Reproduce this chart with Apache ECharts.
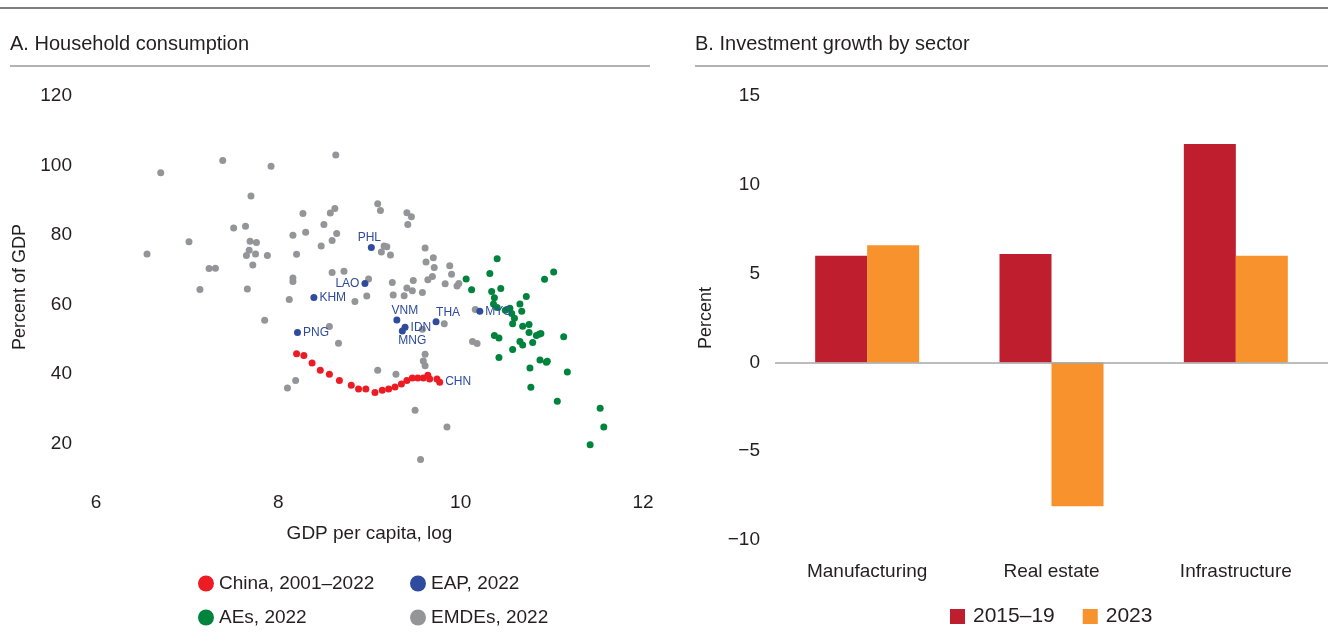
<!DOCTYPE html>
<html>
<head>
<meta charset="utf-8">
<title>Household consumption and investment growth</title>
<script src="https://cdn.jsdelivr.net/npm/echarts@6/dist/echarts.min.js"></script>
<style>
  html, body { margin: 0; padding: 0; background: #fff; }
  #chart { width: 1328px; height: 641px; }
</style>
</head>
<body>
<div id="chart"></div>
<script>
// ---- panel A: household consumption (percent of GDP) vs log GDP per capita ----
var chinaX = [8.20, 8.28, 8.37, 8.46, 8.56, 8.67, 8.80, 8.88, 8.96, 9.06, 9.14,
              9.21, 9.28, 9.35, 9.41, 9.47, 9.53, 9.59, 9.64, 9.66, 9.74, 9.77];
var chinaY = [45.8, 45.3, 43.1, 41.0, 39.9, 38.1, 36.7, 35.6, 35.6, 34.6, 35.3,
              35.6, 36.2, 37.1, 38.1, 38.8, 38.8, 38.8, 39.6, 38.5, 38.5, 37.6];

var eapNames = ['PHL', 'LAO', 'KHM', 'PNG', 'VNM', 'IDN', 'MNG', 'THA', 'MYS'];
var eapX = [9.02, 8.95, 8.39, 8.21, 9.30, 9.39, 9.36, 9.73, 10.21];
var eapY = [76.4, 66.0, 62.0, 51.9, 55.5, 53.4, 52.3, 55.0, 58.0];

var aesX = [10.40, 10.32, 10.06, 10.12, 10.34, 10.44, 10.37, 10.36, 10.40, 10.49,
            10.54, 10.56, 10.59, 10.65, 10.67, 10.72, 11.02, 10.92, 10.57, 10.68,
            10.75, 10.75, 10.83, 10.86, 10.88, 10.79, 10.37, 10.42, 10.65, 10.68,
            10.57, 11.13, 10.42, 10.87, 10.94, 10.95, 10.76, 11.17, 10.77, 11.06,
            11.53, 11.57, 11.42];
var aesY = [73.1, 68.9, 67.3, 64.2, 63.7, 64.6, 61.9, 60.1, 59.1, 58.3,
            58.9, 57.4, 56.0, 60.1, 58.0, 62.3, 69.3, 67.2, 54.4, 53.7,
            54.2, 51.9, 51.0, 51.4, 51.6, 49.0, 51.0, 50.3, 49.3, 48.3,
            47.0, 50.7, 44.7, 44.0, 43.3, 43.6, 41.7, 40.5, 36.1, 32.1,
            30.1, 24.7, 19.6];

var emdeX = [6.71, 7.39, 7.92, 7.70, 7.51, 7.64, 7.02, 6.56, 7.69, 7.76,
             7.68, 7.65, 7.75, 7.88, 7.72, 7.24, 7.31, 7.14, 7.66, 7.85,
             8.27, 8.30, 8.16, 8.20, 8.16, 8.16, 8.12, 8.63, 9.09, 9.12,
             9.41, 9.46, 9.42, 8.57, 8.62, 8.50, 8.64, 8.59, 8.47, 9.16,
             9.19, 9.13, 9.23, 9.61, 9.70, 9.62, 9.71, 9.88, 9.90, 9.69,
             9.64, 9.83, 9.96, 9.98, 8.59, 8.72, 8.99, 9.25, 9.48, 9.41,
             9.47, 9.58, 9.26, 9.38, 8.97, 8.84, 9.58, 9.82, 8.56, 8.66,
             10.16, 10.13, 10.18, 9.61, 9.59, 9.61, 9.09, 9.29, 8.19, 8.10,
             9.50, 9.85, 9.56];
var emdeY = [97.9, 101.4, 99.8, 91.2, 82.0, 82.5, 78.0, 74.5, 78.2, 77.8,
             75.6, 74.1, 74.5, 74.1, 71.3, 70.3, 70.4, 64.3, 64.4, 55.4,
             86.2, 80.8, 79.9, 74.4, 67.6, 66.6, 61.4, 103.0, 89.0, 87.0,
             86.4, 85.2, 83.0, 86.3, 87.6, 83.0, 80.4, 78.4, 76.8, 76.8,
             76.6, 75.1, 74.2, 76.2, 73.4, 72.2, 70.6, 71.1, 68.7, 68.0,
             67.1, 65.9, 65.3, 66.0, 69.2, 69.5, 67.3, 66.3, 66.9, 64.7,
             63.9, 63.4, 62.7, 62.5, 62.4, 60.8, 52.8, 54.4, 53.6, 48.8,
             58.5, 49.3, 48.7, 45.6, 43.7, 42.3, 41.0, 39.9, 38.1, 35.9,
             29.5, 24.7, 15.3];

var scatterTicks = [20, 40, 60, 80, 100, 120];

// ---- panel B: investment growth by sector (percent) ----
var sectors = ['Manufacturing', 'Real estate', 'Infrastructure'];
var growth1519 = [6.0, 6.1, 12.3];
var growth2023 = [6.6, -8.1, 6.0];

var FONT = 'Liberation Sans';
var TXT = '#231f20';
var BLUE = '#2e4b9e';

// where each country code sits next to its dot
var labelPos = {
    PHL: { position: 'top', distance: 0, offset: [-2, 0] },
    LAO: { position: 'left', distance: 2 },
    KHM: { position: 'right', distance: 2 },
    PNG: { position: 'right', distance: 2 },
    VNM: { position: 'top', distance: 0, offset: [8, 0] },
    IDN: { position: 'right', distance: 2 },
    MNG: { position: 'bottom', distance: 0, offset: [10, 0] },
    THA: { position: 'top', distance: 0, offset: [12, 0] },
    MYS: { position: 'right', distance: 2 }
};

function zip(xs, ys) {
    var out = [];
    for (var i = 0; i < xs.length; i++) {
        out.push([xs[i], ys[i]]);
    }
    return out;
}

var eapData = [];
for (var i = 0; i < eapNames.length; i++) {
    var lp = labelPos[eapNames[i]];
    eapData.push({
        value: [eapX[i], eapY[i]],
        name: eapNames[i],
        label: {
            show: true,
            formatter: eapNames[i],
            position: lp.position,
            distance: lp.distance,
            offset: lp.offset || [0, 0]
        }
    });
}

var chinaData = zip(chinaX, chinaY);
// last year gets the CHN tag
chinaData[chinaData.length - 1] = {
    value: chinaData[chinaData.length - 1],
    label: { show: true, formatter: 'CHN', position: 'right', distance: 2, color: BLUE, fontSize: 12, fontFamily: FONT }
};

var chart = echarts.init(document.getElementById('chart'));

var option = {
    animation: false,
    backgroundColor: '#fff',
    textStyle: { fontFamily: FONT, color: TXT },
    title: [
        { text: 'A. Household consumption', left: 5, top: 29, textStyle: { fontFamily: FONT, fontSize: 20, fontWeight: 'normal', color: TXT } },
        { text: 'B. Investment growth by sector', left: 690, top: 29, textStyle: { fontFamily: FONT, fontSize: 20, fontWeight: 'normal', color: TXT } }
    ],
    graphic: [
        { type: 'line', shape: { x1: 0, y1: 8, x2: 1328, y2: 8 }, style: { stroke: '#555', lineWidth: 1.5 } },
        { type: 'line', shape: { x1: 10, y1: 66, x2: 650, y2: 66 }, style: { stroke: '#666', lineWidth: 1.2 } },
        { type: 'line', shape: { x1: 695, y1: 66, x2: 1328, y2: 66 }, style: { stroke: '#666', lineWidth: 1.2 } }
    ],
    legend: [
        {
            data: ['China, 2001–2022', 'AEs, 2022'],
            orient: 'vertical', left: 193, top: 569, itemGap: 15,
            icon: 'circle', itemWidth: 16, itemHeight: 16,
            textStyle: { fontFamily: FONT, fontSize: 19, color: TXT }
        },
        {
            data: ['EAP, 2022', 'EMDEs, 2022'],
            orient: 'vertical', left: 405, top: 569, itemGap: 15,
            icon: 'circle', itemWidth: 16, itemHeight: 16,
            textStyle: { fontFamily: FONT, fontSize: 19, color: TXT }
        },
        {
            data: ['2015–19', '2023'],
            left: 945, top: 601, itemGap: 28,
            icon: 'rect', itemWidth: 15, itemHeight: 15,
            textStyle: { fontFamily: FONT, fontSize: 21, color: TXT, padding: [0, 0, 0, 3] }
        }
    ],
    grid: [
        { left: 96, top: 96, width: 547, height: 382 },
        { left: 775, top: 96, width: 558, height: 444 }
    ],
    xAxis: [
        {
            gridIndex: 0, type: 'value', min: 6, max: 12, interval: 2,
            name: 'GDP per capita, log', nameLocation: 'middle', nameGap: 46,
            nameTextStyle: { fontFamily: FONT, fontSize: 19, color: TXT },
            axisLine: { show: false }, axisTick: { show: false }, splitLine: { show: false },
            axisLabel: { margin: 15, fontFamily: FONT, fontSize: 19, color: TXT }
        },
        {
            gridIndex: 1, type: 'category', data: sectors,
            axisLine: { show: false, onZero: false }, axisTick: { show: false },
            axisLabel: { margin: 22, fontFamily: FONT, fontSize: 19, color: TXT }
        }
    ],
    yAxis: [
        {
            gridIndex: 0, type: 'value', min: 10, max: 120, interval: 10,
            name: 'Percent of GDP', nameLocation: 'middle', nameGap: 67, nameRotate: 90,
            nameTextStyle: { fontFamily: FONT, fontSize: 18, color: TXT },
            axisLine: { show: false }, axisTick: { show: false }, splitLine: { show: false },
            axisLabel: {
                margin: 24, fontFamily: FONT, fontSize: 19, color: TXT,
                formatter: function (v) { return scatterTicks.indexOf(v) >= 0 ? String(v) : ''; }
            }
        },
        {
            gridIndex: 1, type: 'value', min: -10, max: 15, interval: 5,
            name: 'Percent', nameLocation: 'middle', nameGap: 60, nameRotate: 90,
            nameTextStyle: { fontFamily: FONT, fontSize: 18, color: TXT },
            axisLine: { show: false }, axisTick: { show: false }, splitLine: { show: false },
            axisLabel: {
                margin: 15, fontFamily: FONT, fontSize: 19, color: TXT,
                formatter: function (v) { return v < 0 ? '\u2212' + Math.abs(v) : String(v); }
            }
        }
    ],
    series: [
        {
            name: 'EMDEs, 2022', type: 'scatter', xAxisIndex: 0, yAxisIndex: 0,
            symbolSize: 7, itemStyle: { color: '#939598', opacity: 1 },
            data: zip(emdeX, emdeY)
        },
        {
            name: 'AEs, 2022', type: 'scatter', xAxisIndex: 0, yAxisIndex: 0,
            symbolSize: 7, itemStyle: { color: '#00843d', opacity: 1 },
            data: zip(aesX, aesY)
        },
        {
            name: 'EAP, 2022', type: 'scatter', xAxisIndex: 0, yAxisIndex: 0,
            symbolSize: 7, itemStyle: { color: BLUE, opacity: 1 },
            label: { color: BLUE, fontSize: 12, fontFamily: FONT },
            data: eapData
        },
        {
            name: 'China, 2001–2022', type: 'scatter', xAxisIndex: 0, yAxisIndex: 0,
            symbolSize: 7, itemStyle: { color: '#ed1c24', opacity: 1 },
            data: chinaData
        },
        {
            name: '2015–19', type: 'bar', xAxisIndex: 1, yAxisIndex: 1,
            barWidth: 52, barGap: 0, itemStyle: { color: '#be1e2d' },
            data: growth1519,
            markLine: {
                silent: true, symbol: 'none', label: { show: false },
                lineStyle: { color: '#a6a6a6', type: 'solid', width: 1.5 },
                data: [{ yAxis: 0 }]
            }
        },
        {
            name: '2023', type: 'bar', xAxisIndex: 1, yAxisIndex: 1,
            barWidth: 52, barGap: 0, itemStyle: { color: '#f7922d' },
            data: growth2023
        }
    ]
};

chart.setOption(option);
</script>
</body>
</html>
